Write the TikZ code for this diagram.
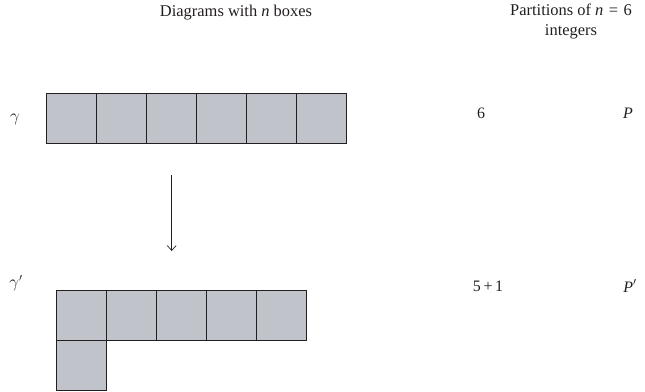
\documentclass[tikz,border=0pt]{standalone}
\usepackage{fontspec}
\setmainfont{Liberation Serif}
\usetikzlibrary{arrows.meta}
\definecolor{cellgray}{HTML}{C0C3CA}
\definecolor{linec}{HTML}{231F20}
\definecolor{textc}{HTML}{231F20}
\begin{document}
\begin{tikzpicture}[x=1bp,y=-1bp,
  cell/.style={draw=linec, fill=cellgray, minimum size=50bp, inner sep=0pt, line width=0.9bp},
  lbl/.style={text=textc, inner sep=0pt, font=\fontsize{16}{18}\selectfont},
  head/.style={text=textc, inner sep=0pt, align=center, font=\fontsize{16.5}{19.5}\selectfont}]
\useasboundingbox (0,0) rectangle (645,391);
% headers
\node[head] (h1) at (236,13) {Diagrams with \textit{n} boxes};
\node[head, anchor=north] (h2) at (571,4) {Partitions of \textit{n}\,\,=\,\,6\\integers};
% top diagram
\foreach \i in {0,...,5}{
  \node[cell] (a\i) at (71.7+50*\i,118.3) {};
}
% bottom diagram
\foreach \i in {0,...,4}{
  \node[cell] (b\i) at (81+50*\i,315.7) {};
}
\node[cell] (c0) at (81,365.7) {};
% labels
\node[lbl] (g1) at (15,119) {$\gamma$};
\node[lbl] (g2) at (16,283) {$\gamma'$};
\node[lbl] (p1) at (481,113) {6};
\node[lbl] (q1) at (628,113) {\textit{P}};
\node[lbl] (p2) at (488,286) {5\,+\,1};
\node[lbl] (q2) at (630,286) {\textit{P}$'$};
% arrow
\coordinate (s) at (171.7,175);
\coordinate (e) at (171.7,251);
\draw[linec, line width=0.7bp, -{Straight Barb[length=5bp,width=9bp]}] (s) -- (e);
\end{tikzpicture}
\end{document}
